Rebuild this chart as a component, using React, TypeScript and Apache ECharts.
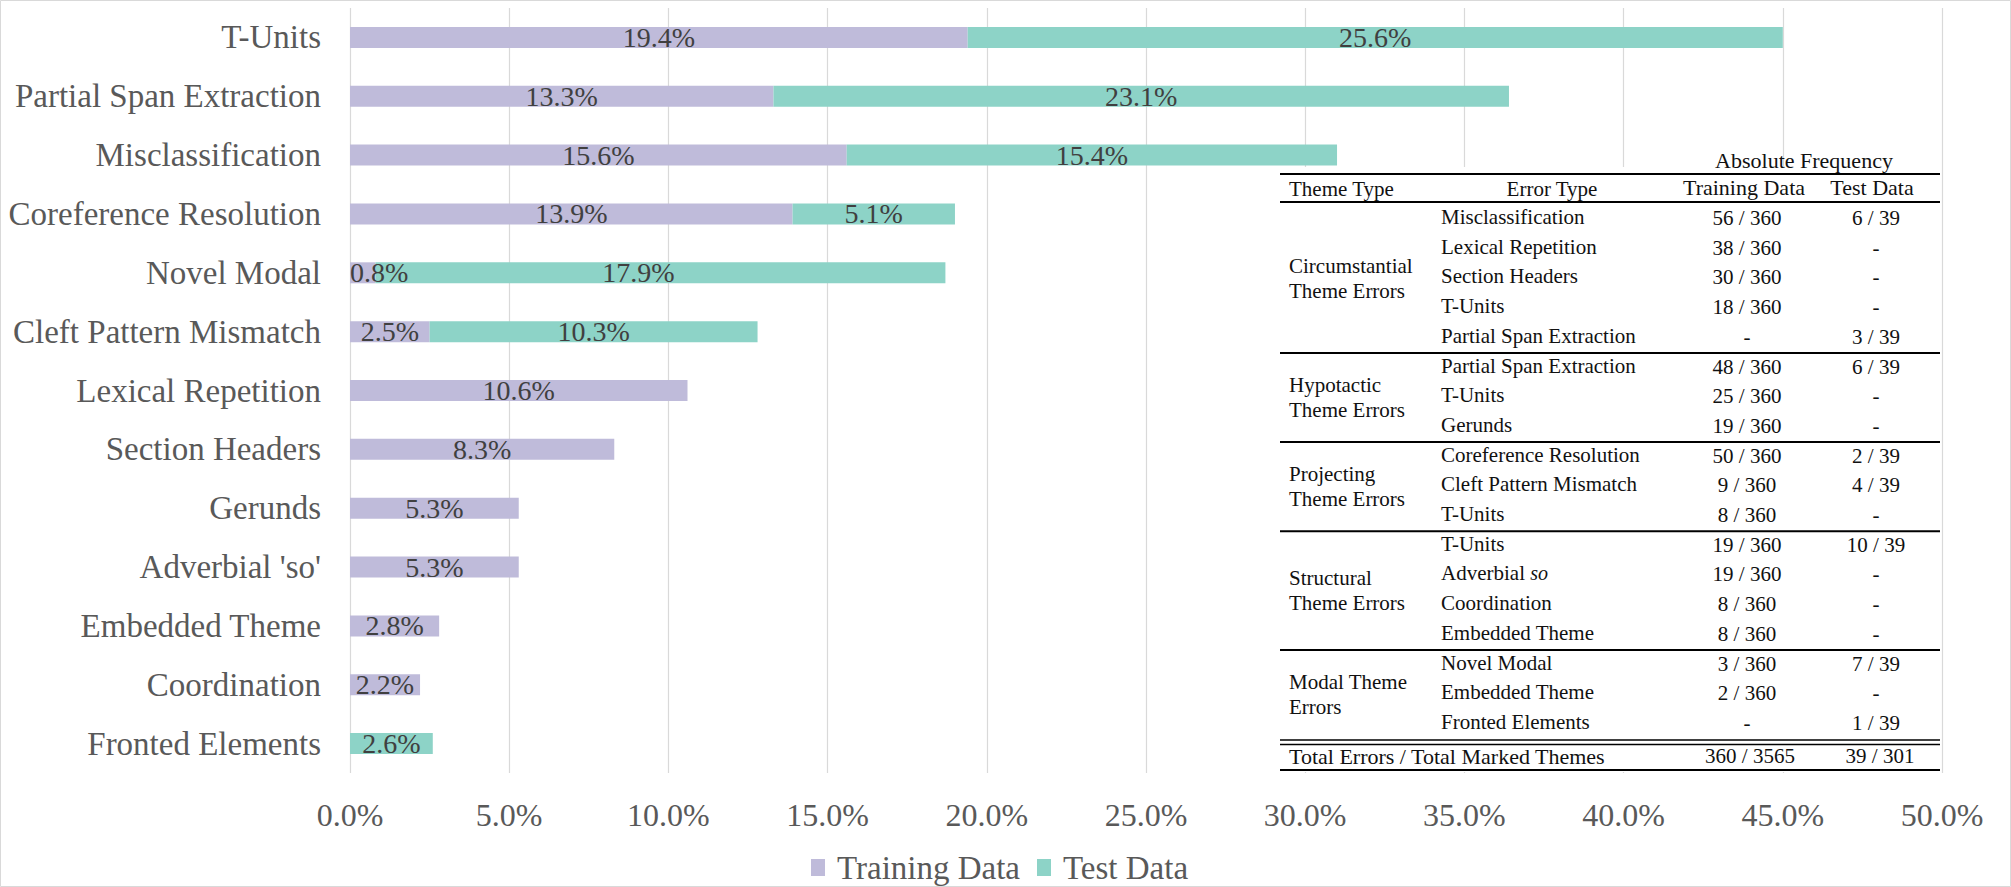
import React, { useEffect, useRef } from "react";
import * as echarts from "echarts";

const categories = [
  "T-Units",
  "Partial Span Extraction",
  "Misclassification",
  "Coreference Resolution",
  "Novel Modal",
  "Cleft Pattern Mismatch",
  "Lexical Repetition",
  "Section Headers",
  "Gerunds",
  "Adverbial 'so'",
  "Embedded Theme",
  "Coordination",
  "Fronted Elements",
];
const trainingValues = [19.4, 13.3, 15.6, 13.9, 0.8, 2.5, 10.6, 8.3, 5.3, 5.3, 2.8, 2.2, 0];
const testValues = [25.6, 23.1, 15.4, 5.1, 17.9, 10.3, null, null, null, null, null, null, 2.6];

const tableGroupNames = [
  "Circumstantial\nTheme Errors",
  "Hypotactic\nTheme Errors",
  "Projecting\nTheme Errors",
  "Structural\nTheme Errors",
  "Modal Theme\nErrors",
];
const tableGroupSizes = [5, 3, 3, 4, 3];
const tableErrorTypes = [
  "Misclassification",
  "Lexical Repetition",
  "Section Headers",
  "T-Units",
  "Partial Span Extraction",
  "Partial Span Extraction",
  "T-Units",
  "Gerunds",
  "Coreference Resolution",
  "Cleft Pattern Mismatch",
  "T-Units",
  "T-Units",
  "Adverbial {i|so}",
  "Coordination",
  "Embedded Theme",
  "Novel Modal",
  "Embedded Theme",
  "Fronted Elements",
];
const tableTrainingFreq = [
  "56 / 360", "38 / 360", "30 / 360", "18 / 360", "-",
  "48 / 360", "25 / 360", "19 / 360",
  "50 / 360", "9 / 360", "8 / 360",
  "19 / 360", "19 / 360", "8 / 360", "8 / 360",
  "3 / 360", "2 / 360", "-",
];
const tableTestFreq = [
  "6 / 39", "-", "-", "-", "3 / 39",
  "6 / 39", "-", "-",
  "2 / 39", "4 / 39", "-",
  "10 / 39", "-", "-", "-",
  "7 / 39", "-", "1 / 39",
];
const tableTotals = ["Total Errors / Total Marked Themes", "360 / 3565", "39 / 301"];

const FONT = "Liberation Serif";

function buildTable(): any[] {
  const els: any[] = [];
  const x0 = 1280;
  const x1 = 1940;
  const colTheme = 1289;
  const colErr = 1441;
  const colTrain = 1747;
  const colTest = 1876;
  const rowY0 = 217;
  const rowH = 29.7;
  const fs = 21;
  const txt = (x: number, y: number, text: string, align = "left", extra: any = {}) => ({
    type: "text",
    x,
    y,
    silent: true,
    z: 20,
    style: {
      text,
      x: 0,
      y: 0,
      fill: "#111",
      fontFamily: FONT,
      fontSize: fs,
      align,
      verticalAlign: "middle",
      ...extra,
    },
  });
  const line = (y: number, w = 2, xa = x0, xb = x1) => ({
    type: "line",
    silent: true,
    z: 21,
    shape: { x1: xa, y1: y, x2: xb, y2: y },
    style: { stroke: "#000", lineWidth: w },
  });
  // white background behind the table
  els.push({
    type: "rect",
    silent: true,
    z: 15,
    shape: { x: x0 - 2, y: 167, width: x1 - x0 + 1, height: 605 },
    style: { fill: "#fff" },
  });
  els.push(txt(1804, 160, "Absolute Frequency", "center", { fontSize: 22 }));
  els.push(line(174, 2));
  els.push(txt(colTheme, 189, "Theme Type"));
  els.push(txt(1552, 189, "Error Type", "center"));
  els.push(txt(colTrain - 3, 187, "Training Data", "center", { fontSize: 22 }));
  els.push(txt(colTest - 4, 187, "Test Data", "center", { fontSize: 22 }));
  els.push(line(202, 2));
  let idx = 0;
  tableGroupSizes.forEach((size, g) => {
    const firstY = rowY0 + idx * rowH;
    const lastY = rowY0 + (idx + size - 1) * rowH;
    if (g > 0) els.push(line(firstY - 12.5, 2));
    els.push(
      txt(colTheme, (firstY + lastY) / 2 + 2, tableGroupNames[g], "left", { lineHeight: 25 })
    );
    for (let r = 0; r < size; r++) {
      const y = rowY0 + (idx + r) * rowH;
      els.push(
        txt(colErr, y, tableErrorTypes[idx + r], "left", {
          rich: {
            i: { fontStyle: "italic", fontSize: fs - 1, fontFamily: FONT, fill: "#111" },
          },
        })
      );
      els.push(txt(colTrain, y + 1, tableTrainingFreq[idx + r], "center"));
      els.push(txt(colTest, y + 1, tableTestFreq[idx + r], "center"));
    }
    idx += size;
  });
  els.push(line(740, 1.6));
  els.push(line(744.5, 1.6));
  els.push(txt(colTheme, 756, tableTotals[0], "left", { fontSize: 22 }));
  els.push(txt(colTrain + 3, 756, tableTotals[1], "center"));
  els.push(txt(colTest + 4, 756, tableTotals[2], "center"));
  els.push(line(770, 2));
  return els;
}

export default function App() {
  const ref = useRef<HTMLDivElement>(null);
  useEffect(() => {
    if (!ref.current) return;
    const chart = echarts.init(ref.current, undefined, { renderer: "svg" });
    const labelFmt = (p: any) => (p.value ? `${Number(p.value).toFixed(1)}%` : "");
    const trainingData = trainingValues.map((v, i) =>
      i === 4 ? { value: v, label: { position: "insideLeft", distance: 0 } } : v
    );
    const testData = testValues.map((v, i) =>
      i === 4 ? { value: v, label: { offset: [-22, 0] } } : v
    );
    chart.setOption({
      animation: false,
      backgroundColor: "#fff",
      textStyle: { fontFamily: FONT },
      grid: { left: 350, right: 69, top: 8, bottom: 114, containLabel: false },
      xAxis: {
        type: "value",
        min: 0,
        max: 50,
        interval: 5,
        axisLine: { show: false },
        axisTick: { show: false },
        splitLine: { show: true, lineStyle: { color: "#d9d9d9", width: 1.2 } },
        axisLabel: {
          formatter: (v: number) => `${v.toFixed(1)}%`,
          color: "#595959",
          fontSize: 32,
          fontFamily: FONT,
          margin: 26,
        },
      },
      yAxis: {
        type: "category",
        data: categories,
        inverse: true,
        axisLine: { show: false },
        axisTick: { show: false },
        axisLabel: { color: "#595959", fontSize: 33, fontFamily: FONT, margin: 29 },
      },
      legend: {
        left: 806,
        top: 846,
        itemWidth: 14,
        itemHeight: 17,
        itemGap: 17,
        icon: "rect",
        textStyle: { color: "#595959", fontSize: 33, fontFamily: FONT, padding: [0, 0, 0, 7] },
        data: ["Training Data", "Test Data"],
      },
      series: [
        {
          name: "Training Data",
          type: "bar",
          stack: "total",
          barWidth: 21,
          data: trainingData,
          itemStyle: { color: "#bfbbda" },
          label: {
            show: true,
            position: "inside",
            formatter: labelFmt,
            color: "#404040",
            fontSize: 28,
            fontFamily: FONT,
          },
        },
        {
          name: "Test Data",
          type: "bar",
          stack: "total",
          barWidth: 21,
          data: testData,
          itemStyle: { color: "#8dd3c7" },
          label: {
            show: true,
            position: "inside",
            formatter: labelFmt,
            color: "#404040",
            fontSize: 28,
            fontFamily: FONT,
          },
        },
      ],
      graphic: [
        {
          type: "rect",
          silent: true,
          z: 30,
          shape: { x: 0.5, y: 0.5, width: 2010, height: 886 },
          style: { fill: "none", stroke: "#d9d9d9", lineWidth: 1 },
        },
        ...buildTable(),
      ],
    });
    return () => chart.dispose();
  }, []);
  return (
    <div
      ref={ref}
      style={{ position: "fixed", left: 0, top: 0, width: 2011, height: 887, background: "#fff" }}
    />
  );
}
